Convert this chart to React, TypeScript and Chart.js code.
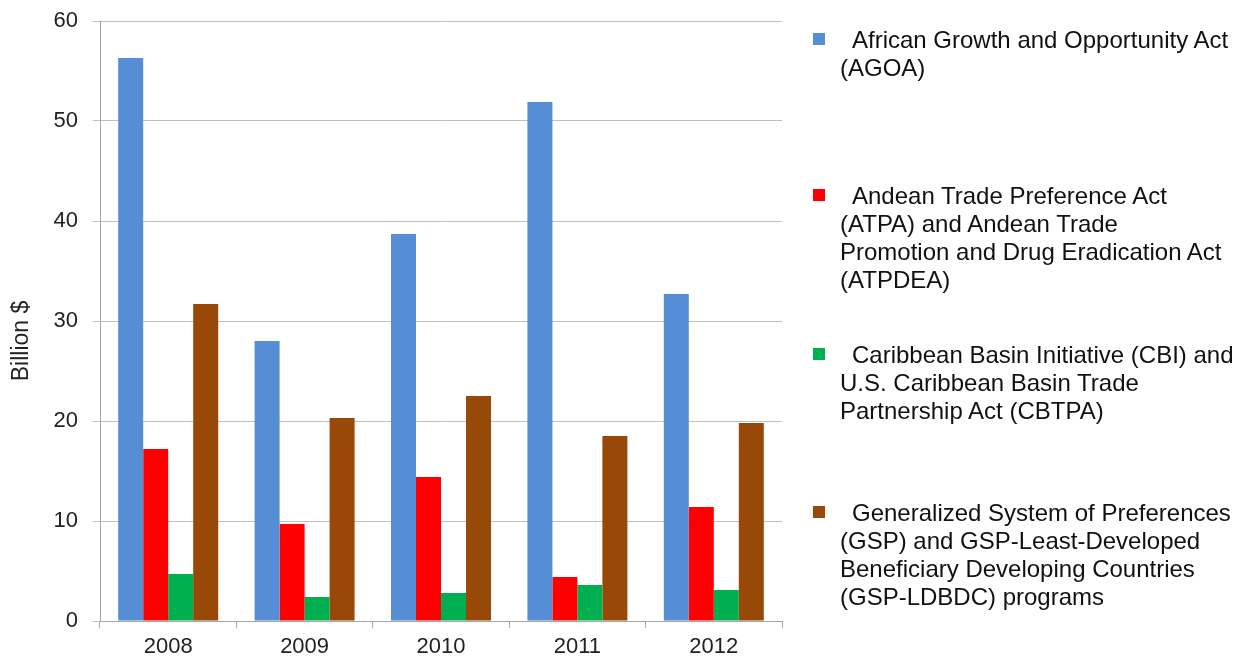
import React, { useEffect, useRef } from "react";
import { Chart, registerables } from "chart.js";

Chart.register(...registerables);

// Imports under each preference programme, billion dollars
const years = ["2008", "2009", "2010", "2011", "2012"];
const agoaValues = [56.3, 28.0, 38.7, 51.9, 32.7];
const atpaValues = [17.2, 9.7, 14.4, 4.4, 11.4];
const cbiValues = [4.7, 2.4, 2.8, 3.6, 3.1];
const gspValues = [31.7, 20.3, 22.5, 18.5, 19.8];

const seriesValues = [agoaValues, atpaValues, cbiValues, gspValues];

// Legend text, one entry per line as it wraps beside the chart
const seriesLabels: string[][] = [
  ["African Growth and Opportunity Act", "(AGOA)"],
  [
    "Andean Trade Preference Act",
    "(ATPA) and Andean Trade",
    "Promotion and Drug Eradication Act",
    "(ATPDEA)",
  ],
  [
    "Caribbean Basin Initiative (CBI) and",
    "U.S. Caribbean Basin Trade",
    "Partnership Act (CBTPA)",
  ],
  [
    "Generalized System of Preferences",
    "(GSP) and GSP-Least-Developed",
    "Beneficiary Developing Countries",
    "(GSP-LDBDC) programs",
  ],
];

const yAxisTitle = "Billion $";
const yMin = 0;
const yMax = 60;
const yStep = 10;

const seriesColors = ["#558ED5", "#FF0000", "#00B050", "#984807"];
const legendTops = [26, 182, 341, 499];

const FONT = "'Liberation Sans', Arial, sans-serif";

// Rotated axis title, placed a little below the middle of the plot
const yTitlePlugin = {
  id: "yTitle",
  afterDraw(chart: Chart) {
    const { ctx, chartArea } = chart;
    ctx.save();
    ctx.translate(22, (chartArea.top + chartArea.bottom) / 2 + 20);
    ctx.rotate(-Math.PI / 2);
    ctx.font = `23px ${FONT}`;
    ctx.fillStyle = "#222";
    ctx.textAlign = "center";
    ctx.textBaseline = "middle";
    ctx.fillText(yAxisTitle, 0, 0);
    ctx.restore();
  },
};

export default function App() {
  const canvasRef = useRef<HTMLCanvasElement | null>(null);

  useEffect(() => {
    if (!canvasRef.current) return;
    const chart = new Chart(canvasRef.current, {
      type: "bar",
      data: {
        labels: years,
        datasets: seriesValues.map((values, i) => ({
          label: seriesLabels[i].join(" "),
          data: values,
          backgroundColor: seriesColors[i],
          borderWidth: 0,
          categoryPercentage: 0.733,
          barPercentage: 1.0,
        })),
      },
      options: {
        animation: false,
        responsive: true,
        maintainAspectRatio: false,
        layout: { padding: { left: 0, top: 21, right: 464, bottom: 0 } },
        plugins: {
          legend: { display: false },
          tooltip: { enabled: false },
          title: { display: false },
        },
        scales: {
          x: {
            grid: {
              display: true,
              drawOnChartArea: false,
              drawTicks: true,
              tickLength: 7,
              offset: true,
              color: "#A6A6A6",
            },
            border: { color: "#A6A6A6", width: 1 },
            ticks: {
              color: "#222",
              font: { family: FONT, size: 22 },
              padding: 6,
            },
            afterFit(scale: any) {
              scale.height = 37;
              scale.paddingLeft = 0;
              scale.paddingRight = 0;
            },
          },
          y: {
            min: yMin,
            max: yMax,
            grid: {
              color: "#BFBFBF",
              lineWidth: 1,
              tickLength: 7,
              drawTicks: true,
            },
            border: { color: "#A6A6A6", width: 1 },
            ticks: {
              stepSize: yStep,
              color: "#222",
              font: { family: FONT, size: 22 },
              padding: 15,
            },
            afterFit(scale: any) {
              scale.width = 100;
              scale.paddingTop = 0;
              scale.paddingBottom = 0;
            },
          },
        },
      },
      plugins: [yTitlePlugin],
    });
    return () => chart.destroy();
  }, []);

  return (
    <div
      style={{
        position: "fixed",
        left: 0,
        top: 0,
        width: 1246,
        height: 658,
        background: "#fff",
      }}
    >
      <canvas ref={canvasRef} />
      {seriesLabels.map((lines, i) => (
        <div
          key={i}
          style={{
            position: "absolute",
            left: 813,
            top: legendTops[i],
            fontFamily: FONT,
            fontSize: 24,
            lineHeight: "28px",
            color: "#111",
            whiteSpace: "nowrap",
          }}
        >
          <span
            style={{
              position: "absolute",
              left: 0,
              top: 7,
              width: 12,
              height: 12,
              background: seriesColors[i],
            }}
          />
          <div style={{ marginLeft: 27 }}>
            {lines.map((line, j) => (
              <div key={j} style={{ textIndent: j === 0 ? 12 : 0 }}>
                {line}
              </div>
            ))}
          </div>
        </div>
      ))}
    </div>
  );
}
